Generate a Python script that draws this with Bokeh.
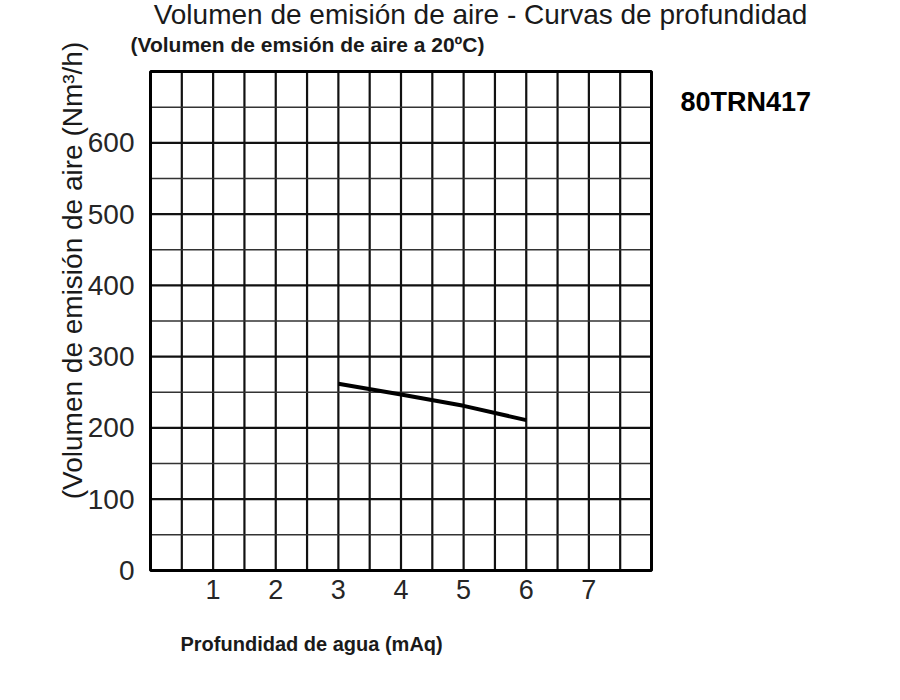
import math
from bokeh.plotting import figure
from bokeh.models import Range1d
from bokeh.core.properties import value
from bokeh.embed import file_html
from bokeh.resources import INLINE

# Data
depth_m = [3, 4, 5, 6]
air_volume = [262, 247, 231, 211]
x_tick_values = [1, 2, 3, 4, 5, 6, 7]
x_tick_labels = ["1", "2", "3", "4", "5", "6", "7"]
y_tick_values = [0, 100, 200, 300, 400, 500, 600]
y_tick_labels = ["0", "100", "200", "300", "400", "500", "600"]
x_limits = [0, 8]
y_limits = [0, 700]
x_grid_values = [0.5, 1, 1.5, 2, 2.5, 3, 3.5, 4, 4.5, 5, 5.5, 6, 6.5, 7, 7.5]
y_major_grid = [100, 200, 300, 400, 500, 600]
y_minor_grid = [50, 150, 250, 350, 450, 550, 650]

title_text = "Volumen de emisión de aire - Curvas de profundidad"
subtitle_text = "(Volumen de emsión de aire a 20ºC)"
model_text = "80TRN417"
y_label_text = "(Volumen de emisión de aire (Nm³/h)"
x_label_text = "Profundidad de agua (mAq)"

FONT = "Liberation Sans"
TXT = "#1a1a1a"

# canvas layout (pixels)
W, H = 884, 684
BOX_L, BOX_R, BOX_T, BOX_B = 150, 651, 71, 570
sx = (BOX_R - BOX_L) / (x_limits[1] - x_limits[0])
sy = (BOX_B - BOX_T) / (y_limits[1] - y_limits[0])


def dx(px):
    return x_limits[0] + (px - BOX_L) / sx


def dy(py):
    return y_limits[0] + (BOX_B - py) / sy


p = figure(width=W, height=H, output_backend="svg", toolbar_location=None,
           x_range=Range1d(dx(0), dx(W)), y_range=Range1d(dy(H), dy(0)),
           min_border=0, min_border_left=0, min_border_right=0,
           min_border_top=0, min_border_bottom=0)
p.axis.visible = False
p.grid.visible = False
p.outline_line_color = None
p.background_fill_color = "white"
p.border_fill_color = "white"

# grid lines inside the box
p.segment(x0=x_grid_values, y0=[y_limits[0]] * len(x_grid_values),
          x1=x_grid_values, y1=[y_limits[1]] * len(x_grid_values),
          line_color="#111111", line_width=2.2)
p.segment(x0=[x_limits[0]] * len(y_minor_grid), y0=y_minor_grid,
          x1=[x_limits[1]] * len(y_minor_grid), y1=y_minor_grid,
          line_color="#333333", line_width=1.5)
p.segment(x0=[x_limits[0]] * len(y_major_grid), y0=y_major_grid,
          x1=[x_limits[1]] * len(y_major_grid), y1=y_major_grid,
          line_color="#111111", line_width=2.2)
# box
p.quad(left=[x_limits[0]], right=[x_limits[1]], bottom=[y_limits[0]], top=[y_limits[1]],
       fill_color=None, line_color="black", line_width=3)

# data line
p.line(depth_m, air_volume, line_color="black", line_width=4)

# tick labels
p.text(x=[x_limits[0]] * len(y_tick_values), y=y_tick_values, text=y_tick_labels,
       x_offset=-16, text_align="right", text_baseline="middle",
       text_font=value(FONT), text_font_size=value("28px"), text_color="#262626")
p.text(x=x_tick_values, y=[y_limits[0]] * len(x_tick_values), text=x_tick_labels,
       y_offset=9, text_align="center", text_baseline="top",
       text_font=value(FONT), text_font_size=value("27px"), text_color="#262626")

# titles and labels
p.text(x=[dx(480)], y=[dy(14)], text=[title_text], text_align="center", text_baseline="middle",
       text_font=value(FONT), text_font_size=value("28px"), text_color=TXT)
p.text(x=[dx(130)], y=[dy(44)], text=[subtitle_text], text_align="left", text_baseline="middle",
       text_font=value(FONT), text_font_size=value("21px"), text_font_style="bold", text_color=TXT)
p.text(x=[dx(680)], y=[dy(101)], text=[model_text], text_align="left", text_baseline="middle",
       text_font=value(FONT), text_font_size=value("27px"), text_font_style="bold", text_color="black")
p.text(x=[dx(72)], y=[dy(270)], text=[y_label_text], text_align="center", text_baseline="middle",
       angle=math.pi / 2,
       text_font=value(FONT), text_font_size=value("28px"), text_color=TXT)
p.text(x=[dx(180)], y=[dy(643)], text=[x_label_text], text_align="left", text_baseline="middle",
       text_font=value(FONT), text_font_size=value("20px"), text_font_style="bold", text_color=TXT)

open("out.html", "w").write(file_html(p, INLINE))
